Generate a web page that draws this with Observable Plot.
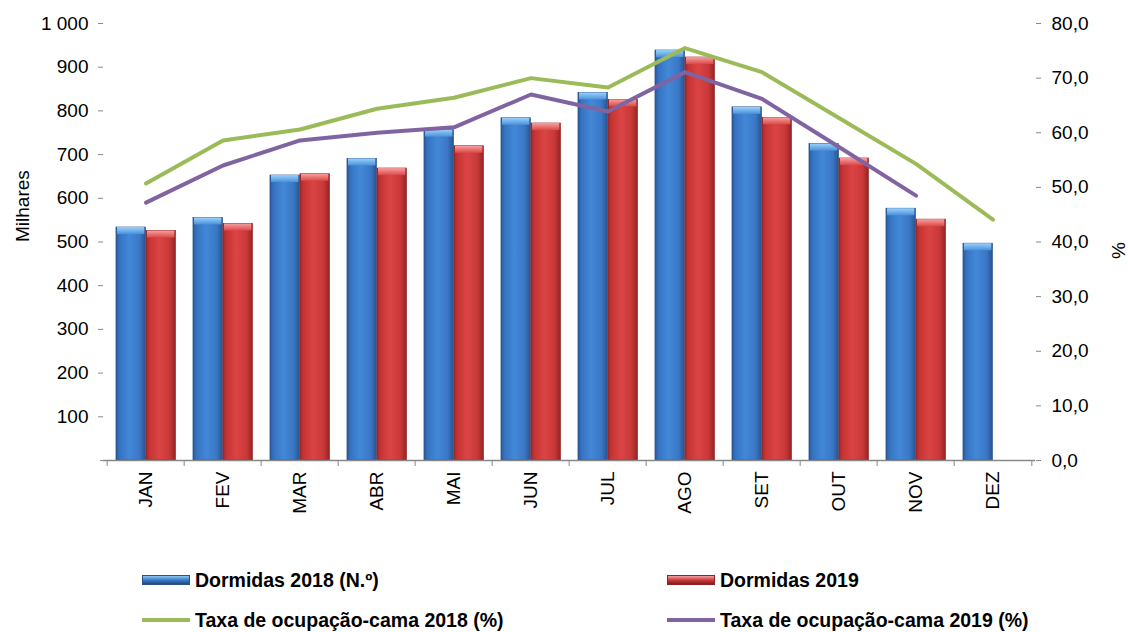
<!DOCTYPE html>
<html>
<head>
<meta charset="utf-8">
<script src="https://cdn.jsdelivr.net/npm/d3@7"></script>
<script src="https://cdn.jsdelivr.net/npm/@observablehq/plot@0.6"></script>
<style>
  html, body { margin: 0; padding: 0; background: #fff; }
  #wrap { position: relative; width: 1128px; height: 632px; font-family: "Liberation Sans", Arial, sans-serif; }
  #legend { position: absolute; left: 0; top: 545px; width: 1128px; height: 87px; }
  .item { position: absolute; display: flex; align-items: center; font-weight: bold; font-size: 19.5px; color: #000; white-space: nowrap; }
  .sw { width: 48px; height: 10px; margin-right: 5px; box-sizing: border-box; }
  .ln { width: 48px; height: 4px; margin-right: 5px; }
</style>
</head>
<body>
<div id="wrap">
  <div id="chart"></div>
  <div id="legend"></div>
</div>
<script>
const months = ["JAN","FEV","MAR","ABR","MAI","JUN","JUL","AGO","SET","OUT","NOV","DEZ"];
const dormidas2018 = [533, 555, 652, 690, 756, 783, 841, 938, 808, 724, 576, 496];
const dormidas2019 = [525, 541, 655, 668, 719, 771, 825, 922, 784, 691, 551, null];
const taxa2018 = [50.7, 58.6, 60.6, 64.4, 66.4, 70.0, 68.3, 75.5, 71.1, 62.7, 54.3, 44.1];
const taxa2019 = [47.2, 54.0, 58.6, 60.0, 61.0, 67.0, 63.9, 71.1, 66.2, 57.4, 48.5, null];
const leftTicks = [100, 200, 300, 400, 500, 600, 700, 800, 900, 1000];
const rightTicks = [0, 10, 20, 30, 40, 50, 60, 70, 80];
const seriesNames = ["Dormidas 2018 (N.º)", "Dormidas 2019", "Taxa de ocupação-cama 2018 (%)", "Taxa de ocupação-cama 2019 (%)"];
const seriesColors = ["#3b7bc9", "#d03b3b", "#9bbb59", "#8064a2"];

const k = 1000 / 80; // right-axis (%) to left-axis units

const bars18 = months.map((m, i) => ({m, v: dormidas2018[i]})).filter(d => d.v != null);
const bars19 = months.map((m, i) => ({m, v: dormidas2019[i]})).filter(d => d.v != null);
const line18 = months.map((m, i) => ({m, v: taxa2018[i]})).filter(d => d.v != null);
const line19 = months.map((m, i) => ({m, v: taxa2019[i]})).filter(d => d.v != null);

const W = 1128, H = 545, ML = 103, MR = 93, MT = 23, MB = 85;
const band = (W - ML - MR) / months.length;
const gap = 9, bw = 30;
const font = "Liberation Sans, Arial, sans-serif";

const chart = Plot.plot({
  width: W, height: H,
  marginLeft: ML, marginRight: MR, marginTop: MT, marginBottom: MB,
  style: {fontFamily: font, fontSize: "19px", color: "#000", background: "#fff"},
  x: {domain: months, padding: 0, align: 0.5},
  y: {domain: [0, 1000]},
  marks: [
    // bars 2018
    Plot.barY(bars18, {x: "m", y: "v", fill: "url(#gBlue)", stroke: "#2a528a", strokeWidth: 0.8, insetLeft: gap, insetRight: band - gap - bw}),
    Plot.barY(bars18, {x: "m", y1: "v", y2: "v", fill: "url(#cBlue)", insetLeft: gap + 1, insetRight: band - gap - bw + 1, insetBottom: -7}),
    // bars 2019
    Plot.barY(bars19, {x: "m", y: "v", fill: "url(#gRed)", stroke: "#8f2424", strokeWidth: 0.8, insetLeft: gap + bw, insetRight: band - gap - 2 * bw}),
    Plot.barY(bars19, {x: "m", y1: "v", y2: "v", fill: "url(#cRed)", insetLeft: gap + bw + 1, insetRight: band - gap - 2 * bw + 1, insetBottom: -7}),
    // lines
    Plot.lineY(line18, {x: "m", y: d => d.v * k, stroke: seriesColors[2], strokeWidth: 4}),
    Plot.lineY(line19, {x: "m", y: d => d.v * k, stroke: seriesColors[3], strokeWidth: 4}),
    // left axis
    Plot.axisY({anchor: "left", ticks: leftTicks, tickSize: 5, tickPadding: 10, stroke: "#888",
      tickFormat: d => d3.format(",")(d).replace(",", " "), fontSize: 19, label: null}),
    Plot.tickY([0], {frameAnchor: "left", y: d => d, stroke: "#888", dx: -3, insetLeft: 0}),
    Plot.ruleX([0], {frameAnchor: "left", stroke: "#888", strokeWidth: 1.5}),
    // right axis
    Plot.axisY({anchor: "right", ticks: rightTicks.map(t => t * k), tickSize: 5, tickPadding: 11, stroke: "#888",
      tickFormat: d => (d / k).toFixed(1).replace(".", ","), fontSize: 19, label: null}),
    Plot.ruleX([0], {frameAnchor: "right", stroke: "#888", strokeWidth: 1.5}),
    // x axis
    Plot.axisX({anchor: "bottom", tickSize: 0, tickPadding: 11, tickRotate: -90, fontSize: 19, label: null}),
    Plot.ruleY([0], {stroke: "#888", strokeWidth: 1.5}),
    Plot.ruleX(months, {x: d => d, dx: -band / 2, y1: 0, y2: 0, insetTop: 6, stroke: "#888", strokeWidth: 1}),
    Plot.ruleX(months.slice(-1), {x: d => d, dx: band / 2, y1: 0, y2: 0, insetTop: 6, stroke: "#888", strokeWidth: 1}),
    // axis titles
    Plot.text(["Milhares"], {frameAnchor: "left", dx: -81, rotate: -90, fontSize: 19, fill: "#000"}),
    Plot.text(["%"], {frameAnchor: "right", dx: 83, rotate: -90, fontSize: 19, fill: "#000"})
  ]
});

// gradient definitions
const defs = `
<defs>
  <linearGradient id="gBlue" x1="0" x2="1" y1="0" y2="0">
    <stop offset="0" stop-color="#2c5a98"/>
    <stop offset="0.12" stop-color="#3573c2"/>
    <stop offset="0.45" stop-color="#4388d8"/>
    <stop offset="0.8" stop-color="#3a78c6"/>
    <stop offset="1" stop-color="#2a5590"/>
  </linearGradient>
  <linearGradient id="gRed" x1="0" x2="1" y1="0" y2="0">
    <stop offset="0" stop-color="#a22a2a"/>
    <stop offset="0.12" stop-color="#c53434"/>
    <stop offset="0.45" stop-color="#db4444"/>
    <stop offset="0.8" stop-color="#c93838"/>
    <stop offset="1" stop-color="#952626"/>
  </linearGradient>
  <linearGradient id="cBlue" x1="0" x2="0" y1="0" y2="1">
    <stop offset="0" stop-color="#9ad2fa"/>
    <stop offset="1" stop-color="#4a90dc"/>
  </linearGradient>
  <linearGradient id="cRed" x1="0" x2="0" y1="0" y2="1">
    <stop offset="0" stop-color="#f7a0a0"/>
    <stop offset="1" stop-color="#dc4848"/>
  </linearGradient>
</defs>`;
chart.insertAdjacentHTML("afterbegin", defs);
document.getElementById("chart").appendChild(chart);

// legend
const legend = document.getElementById("legend");
const pos = [[142, 35], [667, 35], [142, 75], [667, 75]];
const swatchStyles = [
  "background: linear-gradient(#8cc8f5, #3b7bc9 50%, #24497c); border: 1px solid #2a528a;",
  "background: linear-gradient(#f5a0a0, #d03b3b 50%, #7e1e1e); border: 1px solid #8f2424;",
  null, null
];
seriesNames.forEach((name, i) => {
  const div = document.createElement("div");
  div.className = "item";
  div.style.left = pos[i][0] + "px";
  div.style.top = (pos[i][1] - 12) + "px";
  div.style.height = "24px";
  const sw = document.createElement("span");
  if (swatchStyles[i]) {
    sw.className = "sw";
    sw.setAttribute("style", swatchStyles[i]);
  } else {
    sw.className = "ln";
    sw.style.background = seriesColors[i];
  }
  div.appendChild(sw);
  const t = document.createElement("span");
  t.textContent = name;
  div.appendChild(t);
  legend.appendChild(div);
});
</script>
</body>
</html>
